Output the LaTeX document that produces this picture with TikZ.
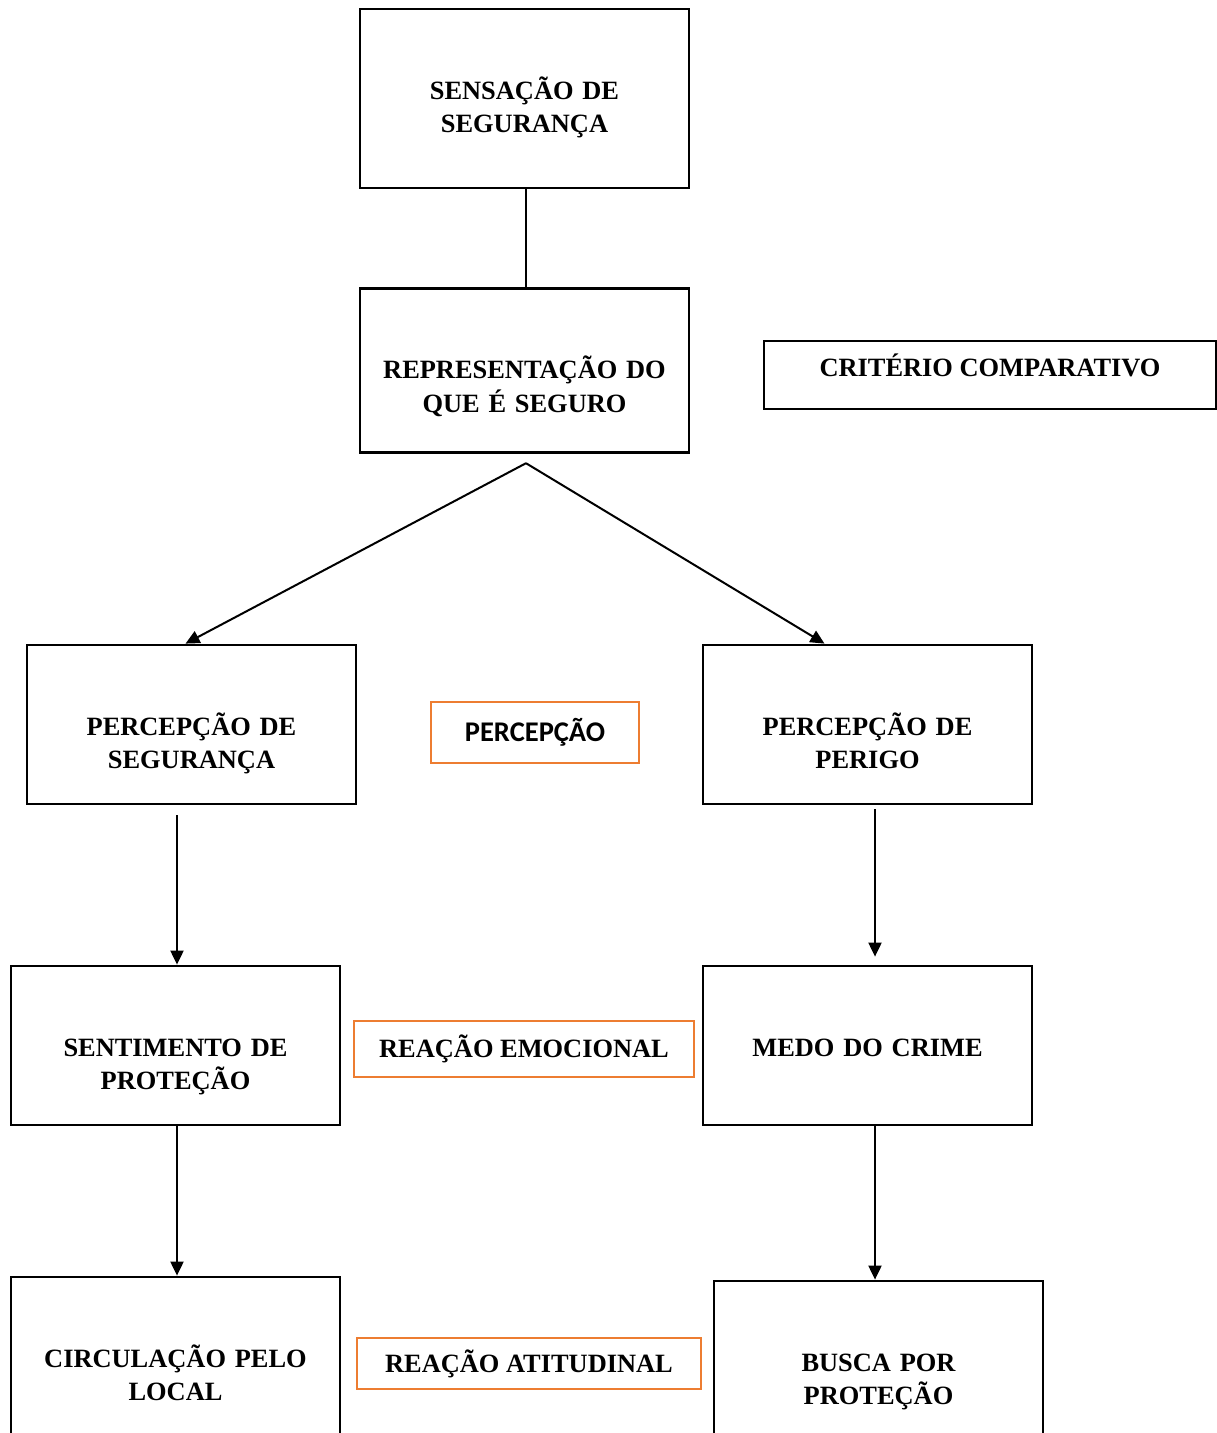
\documentclass[tikz,border=0pt]{standalone}
\usepackage{fontspec}
\setmainfont{Liberation Serif}
\newfontfamily\calibrifont{Carlito}
\usetikzlibrary{arrows.meta,positioning,calc}
\definecolor{wordorange}{HTML}{ED7D31}

\begin{document}
\begin{tikzpicture}[x=1pt,y=1pt,
  font=\fontsize{26.4}{33.5}\selectfont\bfseries,
  box/.style={draw,line width=2.8pt,minimum width=329pt,minimum height=159pt,inner sep=0pt,
    text width=315pt,align=center,text height=90pt,text depth=69pt},
  tag/.style={draw=wordorange,line width=2.2pt,inner sep=0pt,align=center},
  link/.style={line width=2pt},
  arr/.style={link,-{Triangle[length=14pt,width=13pt]}}]
  \useasboundingbox (0,0) rectangle (1217,-1433);
  \clip (0,0) rectangle (1217,-1433);
  % top of the chain
  \node[box,minimum height=179pt,text depth=89pt] (sens) at (524.5,-98.5) {SENSAÇÃO DE\\SEGURANÇA};
  \node[box,below=98pt of sens,minimum height=164pt,text depth=74pt] (rep) {REPRESENTAÇÃO DO\\QUE É SEGURO};
  \node[draw,line width=2.8pt,minimum width=452pt,minimum height=68pt,inner sep=0pt,
    text height=35pt,text depth=33pt] (crit) at (990,-375) {CRITÉRIO COMPARATIVO};
  % two branches
  \node[box] (pseg) at (191.5,-724.5) {PERCEPÇÃO DE\\SEGURANÇA};
  \node[box] (pper) at (867.5,-724.5) {PERCEPÇÃO DE\\PERIGO};
  \node[box] (sent) at (175.5,-1045.5) {SENTIMENTO DE\\PROTEÇÃO};
  \node[box] (medo) at (867.5,-1045.5) {MEDO DO CRIME};
  \node[box] (circ) at (175.5,-1356.5) {CIRCULAÇÃO PELO\\LOCAL};
  \node[box] (busca) at (878.5,-1360.5) {BUSCA POR\\PROTEÇÃO};
  % orange labels between the branches
  \node[tag,minimum width=208pt,minimum height=61pt,
    font=\calibrifont\fontsize{28.5}{30}\selectfont\bfseries] (tperc) at (535,-732.5) {PERCEPÇÃO};
  \node[tag,minimum width=340pt,minimum height=56pt] (temo) at (524,-1049) {REAÇÃO EMOCIONAL};
  \node[tag,minimum width=344pt,minimum height=51pt] (tatit) at (529,-1363.5) {REAÇÃO ATITUDINAL};
  % connectors
  \coordinate (top) at ([xshift=1.5pt]sens.south);
  \draw[link] (top) -- (top |- rep.north);
  \coordinate (fork) at ([xshift=1.5pt,yshift=-9pt]rep.south);
  \draw[arr] (fork) -- ([xshift=-6pt]pseg.north);
  \draw[arr] (fork) -- ([xshift=-43pt]pper.north);
  \draw[arr] ($(pseg.south -| sent.north)+(1.5,-10)$) -- ([xshift=1.5pt]sent.north);
  \draw[arr] ($(pper.south)+(7.5,-4)$) -- ($(medo.north)+(7.5,8)$);
  \draw[arr] ([xshift=1.5pt]sent.south) -- ([xshift=1.5pt]circ.north);
  \coordinate (mdrop) at ($(medo.south)+(7.5,0)$);
  \draw[arr] (mdrop) -- (mdrop |- busca.north);
\end{tikzpicture}
\end{document}
